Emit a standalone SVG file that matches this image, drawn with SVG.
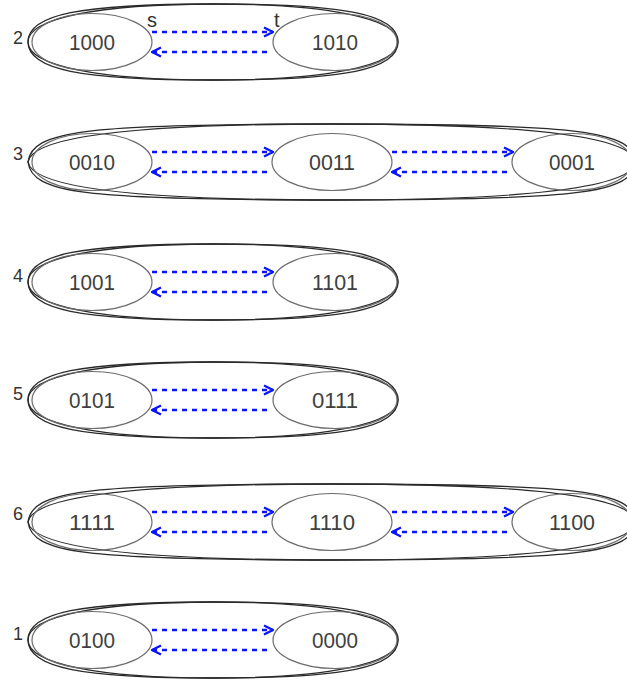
<svg xmlns="http://www.w3.org/2000/svg" width="627" height="682" viewBox="0 0 627 682">
  <style>
    .bg { fill: #ffffff; }
    .clu { fill: none; stroke: #2a2a2a; stroke-width: 1.3; }
    .node ellipse { fill: none; stroke: #6b6b6b; stroke-width: 1.2; }
    .lbl { font-family: "Liberation Sans", Arial, sans-serif; font-size: 22px; fill: #404040; text-anchor: middle; }
    .num { font-family: "Liberation Sans", Arial, sans-serif; font-size: 18px; fill: #333333; }
    .st { font-family: "Liberation Sans", Arial, sans-serif; font-size: 20px; fill: #333333; }
    .edge { fill: none; stroke: #0a14ff; stroke-width: 2.6; stroke-dasharray: 5 5; marker-end: url(#chev); }
  </style>
  <defs>
    <marker id="chev" viewBox="0 0 12 12" refX="11" refY="6" markerWidth="12" markerHeight="12" markerUnits="userSpaceOnUse" orient="auto">
      <path d="M2,1.5 L11,6 L2,10.5" fill="none" stroke="#0a14ff" stroke-width="2.4" stroke-dasharray="none"/>
    </marker>
    <!-- cluster outlines, drawn twice so they double up near the ends -->
    <g id="clu2">
      <path class="clu" d="M28,0 C28,-27.4 79.8,-38 213,-38 C346.2,-38 398,-27.4 398,0 C398,27.4 346.2,38 213,38 C79.8,38 28,27.4 28,0Z"/>
      <path class="clu" d="M28,0 C28,-23.6 98.3,-38 213,-38 C327.7,-38 398,-23.6 398,0 C398,23.6 327.7,38 213,38 C98.3,38 28,23.6 28,0Z"/>
    </g>
    <g id="clu3">
      <path class="clu" d="M28,0 C32,-31.2 82.7,-38 332,-38 C581.3,-38 632,-31.2 636,0 C632,31.2 581.3,38 332,38 C82.7,38 32,31.2 28,0Z"/>
      <path class="clu" d="M28,0 C32,-25.1 131.4,-38 332,-38 C532.6,-38 632,-25.1 636,0 C632,25.1 532.6,38 332,38 C131.4,38 32,25.1 28,0Z"/>
    </g>
  </defs>
  <rect class="bg" x="0" y="0" width="627" height="682"/>

  <!-- cluster 2 -->
  <g id="cluster2" transform="translate(0,42)">
    <use href="#clu2"/>
    <text class="num" x="13" y="2">2</text>
    <text class="st" x="147" y="-15">s</text>
    <text class="st" x="274" y="-15">t</text>
    <g id="n1000" class="node"><ellipse cx="92" cy="0" rx="60" ry="28.5"/><text class="lbl" x="92" y="8" textLength="46" lengthAdjust="spacingAndGlyphs">1000</text></g>
    <g id="n1010" class="node"><ellipse cx="335" cy="0" rx="62" ry="28.5"/><text class="lbl" x="335" y="8" textLength="46" lengthAdjust="spacingAndGlyphs">1010</text></g>
  </g>

  <!-- cluster 3 -->
  <g id="cluster3" transform="translate(0,162)">
    <use href="#clu3"/>
    <text class="num" x="13" y="-2">3</text>
    <g id="n0010" class="node"><ellipse cx="92" cy="0" rx="60" ry="28.5"/><text class="lbl" x="92" y="8" textLength="46" lengthAdjust="spacingAndGlyphs">0010</text></g>
    <g id="n0011" class="node"><ellipse cx="332" cy="0" rx="60" ry="28.5"/><text class="lbl" x="332" y="8" textLength="46" lengthAdjust="spacingAndGlyphs">0011</text></g>
    <g id="n0001" class="node"><ellipse cx="572" cy="0" rx="60" ry="28.5"/><text class="lbl" x="572" y="8" textLength="46" lengthAdjust="spacingAndGlyphs">0001</text></g>
  </g>

  <!-- cluster 4 -->
  <g id="cluster4" transform="translate(0,282)">
    <use href="#clu2"/>
    <text class="num" x="13" y="0">4</text>
    <g id="n1001" class="node"><ellipse cx="92" cy="0" rx="60" ry="28.5"/><text class="lbl" x="92" y="8" textLength="46" lengthAdjust="spacingAndGlyphs">1001</text></g>
    <g id="n1101" class="node"><ellipse cx="335" cy="0" rx="62" ry="28.5"/><text class="lbl" x="335" y="8" textLength="46" lengthAdjust="spacingAndGlyphs">1101</text></g>
  </g>

  <!-- cluster 5 -->
  <g id="cluster5" transform="translate(0,400)">
    <use href="#clu2"/>
    <text class="num" x="13" y="0">5</text>
    <g id="n0101" class="node"><ellipse cx="92" cy="0" rx="60" ry="28.5"/><text class="lbl" x="92" y="8" textLength="46" lengthAdjust="spacingAndGlyphs">0101</text></g>
    <g id="n0111" class="node"><ellipse cx="335" cy="0" rx="62" ry="28.5"/><text class="lbl" x="335" y="8" textLength="46" lengthAdjust="spacingAndGlyphs">0111</text></g>
  </g>

  <!-- cluster 6 -->
  <g id="cluster6" transform="translate(0,522)">
    <use href="#clu3"/>
    <text class="num" x="13" y="-2">6</text>
    <g id="n1111" class="node"><ellipse cx="92" cy="0" rx="60" ry="28.5"/><text class="lbl" x="92" y="8" textLength="46" lengthAdjust="spacingAndGlyphs">1111</text></g>
    <g id="n1110" class="node"><ellipse cx="332" cy="0" rx="60" ry="28.5"/><text class="lbl" x="332" y="8" textLength="46" lengthAdjust="spacingAndGlyphs">1110</text></g>
    <g id="n1100" class="node"><ellipse cx="572" cy="0" rx="60" ry="28.5"/><text class="lbl" x="572" y="8" textLength="46" lengthAdjust="spacingAndGlyphs">1100</text></g>
  </g>

  <!-- cluster 1 -->
  <g id="cluster1" transform="translate(0,640)">
    <use href="#clu2"/>
    <text class="num" x="13" y="0">1</text>
    <g id="n0100" class="node"><ellipse cx="92" cy="0" rx="60" ry="28.5"/><text class="lbl" x="92" y="8" textLength="46" lengthAdjust="spacingAndGlyphs">0100</text></g>
    <g id="n0000" class="node"><ellipse cx="335" cy="0" rx="62" ry="28.5"/><text class="lbl" x="335" y="8" textLength="46" lengthAdjust="spacingAndGlyphs">0000</text></g>
  </g>

  <!-- connectors: each pair of neighbours is linked both ways -->
  <g id="edges">
    <path class="edge" d="M152,32 H273"/>
    <path class="edge" d="M267,52 H152"/>

    <path class="edge" d="M152,152 H273"/>
    <path class="edge" d="M267,172 H152"/>
    <path class="edge" d="M392,152 H513"/>
    <path class="edge" d="M507,172 H392"/>

    <path class="edge" d="M152,272 H273"/>
    <path class="edge" d="M267,292 H152"/>

    <path class="edge" d="M152,390 H273"/>
    <path class="edge" d="M267,410 H152"/>

    <path class="edge" d="M152,512 H273"/>
    <path class="edge" d="M267,532 H152"/>
    <path class="edge" d="M392,512 H513"/>
    <path class="edge" d="M507,532 H392"/>

    <path class="edge" d="M152,630 H273"/>
    <path class="edge" d="M267,650 H152"/>
  </g>
</svg>
